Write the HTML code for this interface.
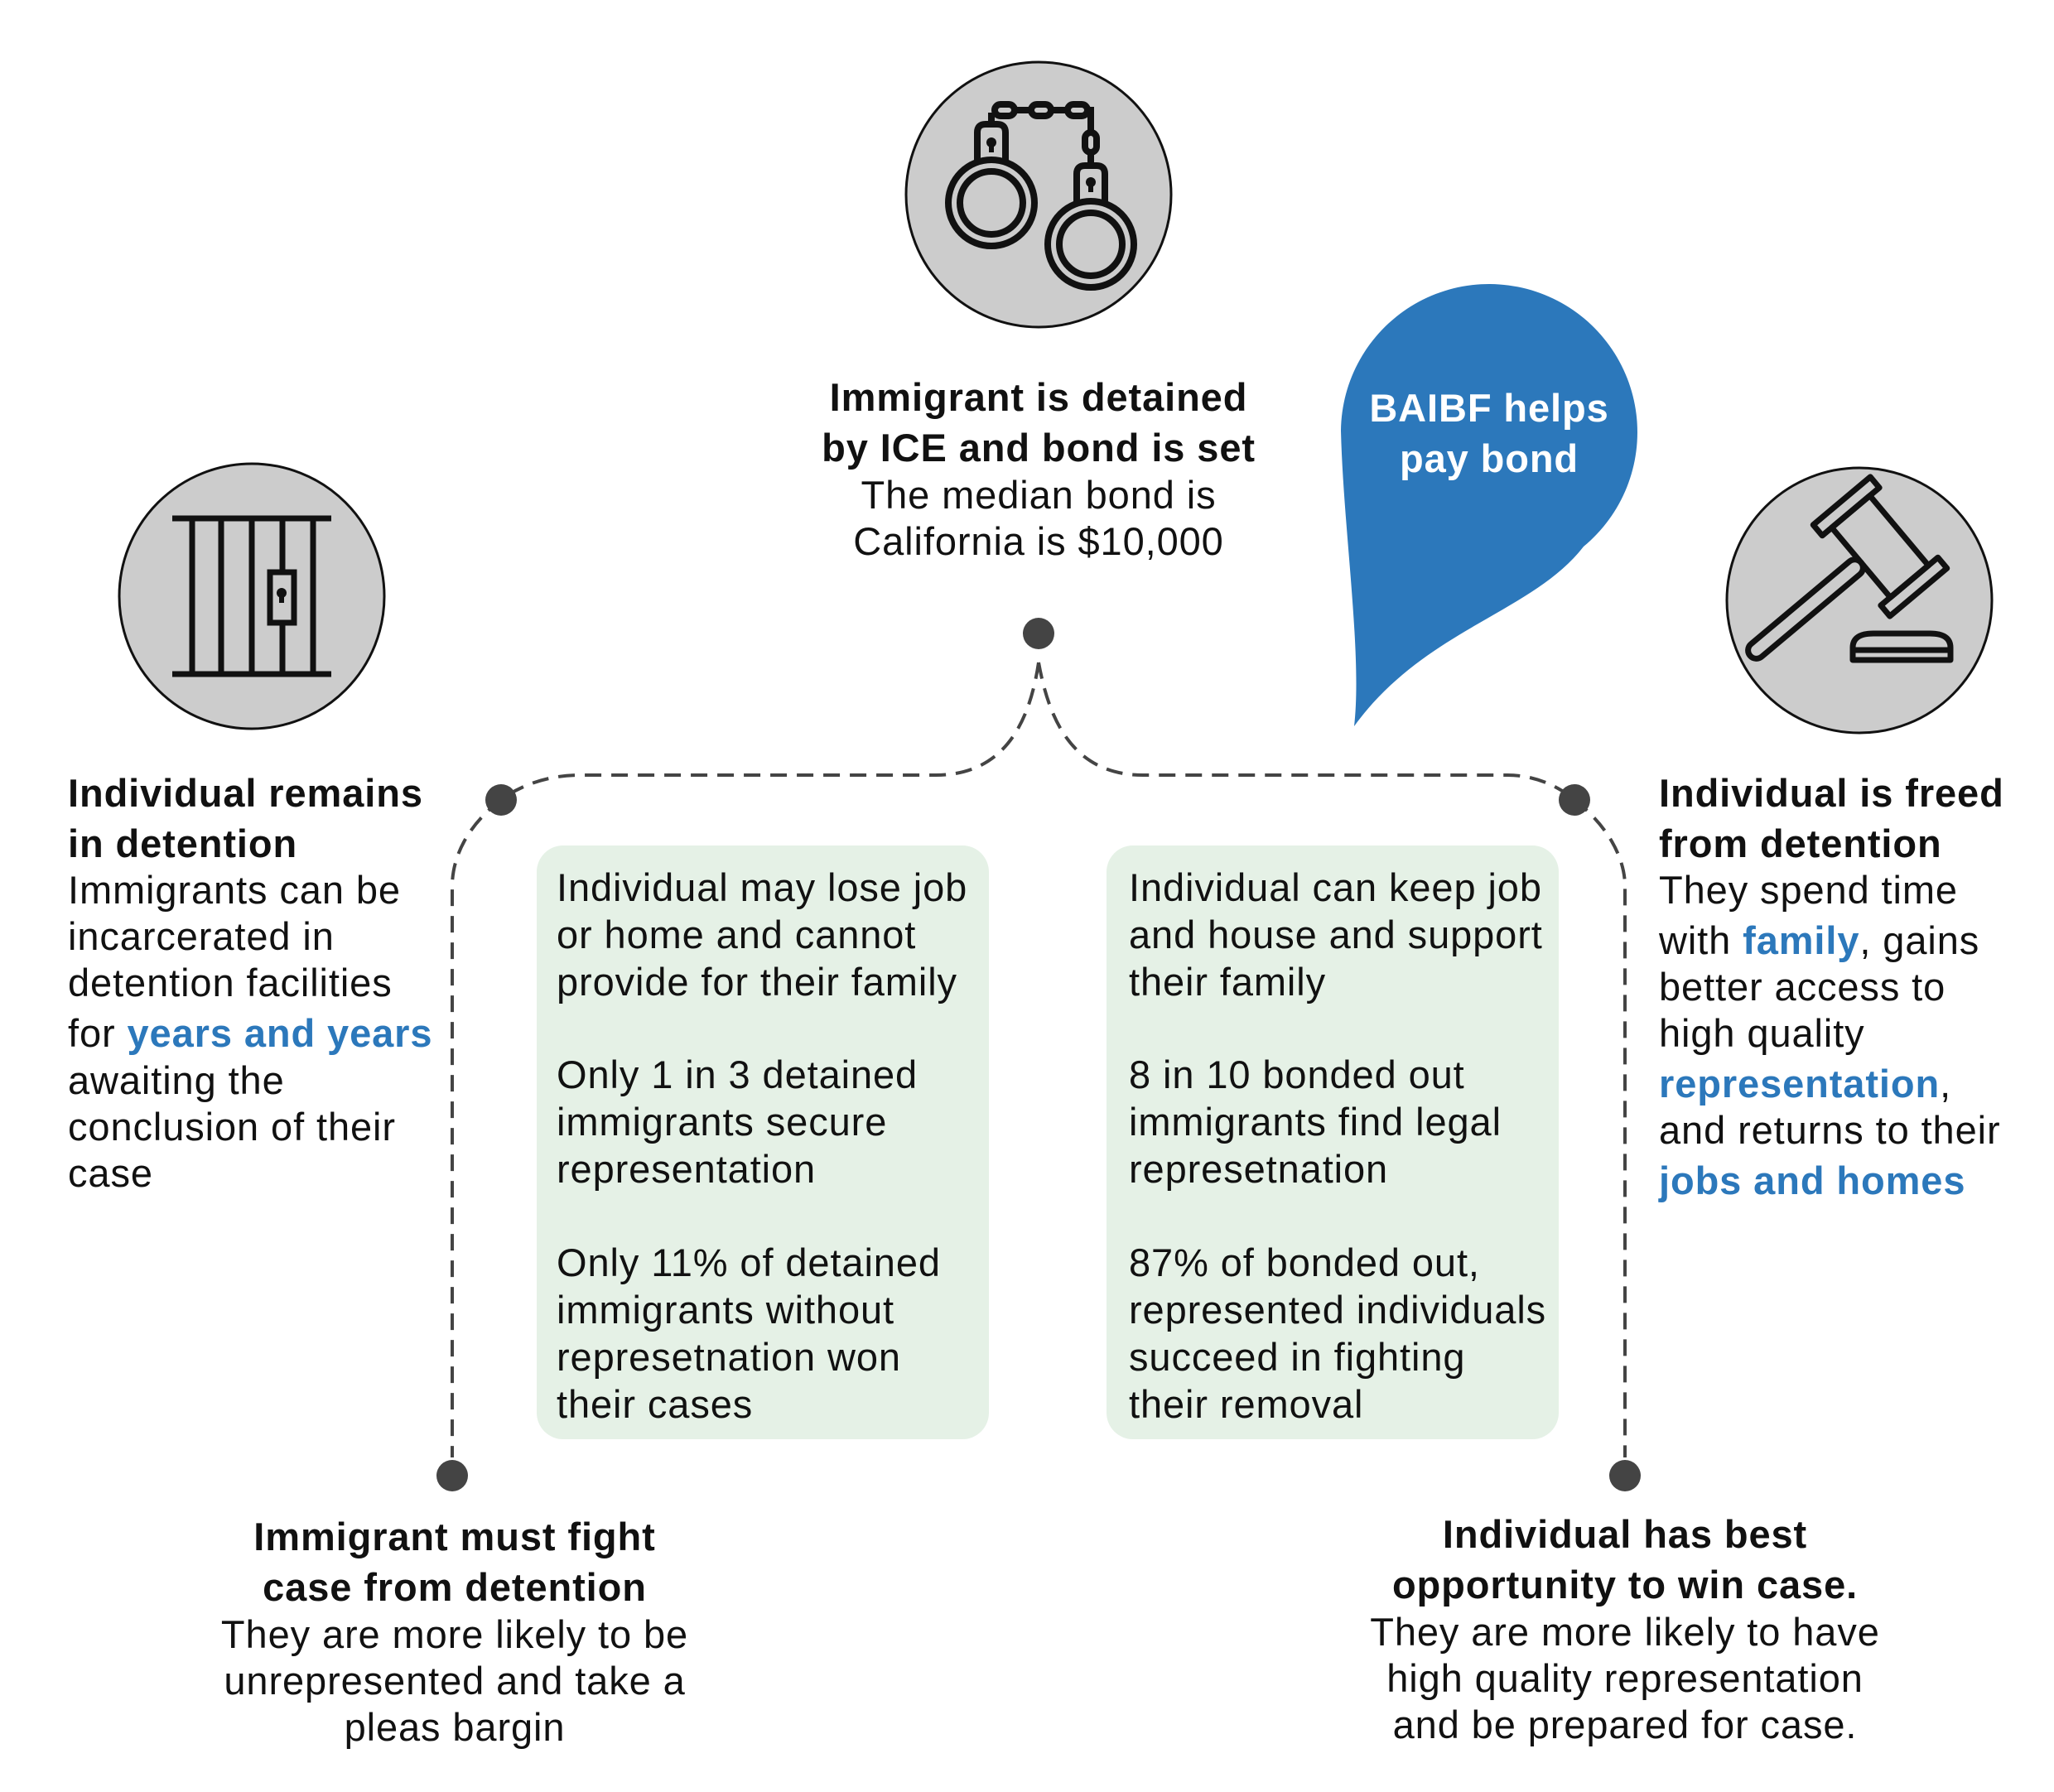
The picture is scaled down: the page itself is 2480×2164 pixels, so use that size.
<!DOCTYPE html>
<html><head><meta charset="utf-8"><style>
html,body{margin:0;padding:0;background:#fff}
svg{display:block}
text{font-family:"Liberation Sans",Arial,sans-serif;fill:#111;letter-spacing:0.9px}
.b{font-weight:bold;font-size:47px}
.n{font-size:47px}
.bl{fill:#2c78bb;font-weight:bold}
</style></head><body>
<svg width="2480" height="2164" viewBox="0 0 2480 2164" xmlns="http://www.w3.org/2000/svg">
<!-- circles -->
<circle cx="1254" cy="235" r="160" fill="#cccccc" stroke="#111" stroke-width="3"/>
<circle cx="304" cy="720" r="160" fill="#cccccc" stroke="#111" stroke-width="3"/>
<circle cx="2245" cy="725" r="160" fill="#cccccc" stroke="#111" stroke-width="3"/>

<!-- handcuffs -->
<g fill="none" stroke="#111" stroke-width="8">
<circle cx="1197" cy="245" r="52"/><circle cx="1197" cy="245" r="38"/>
<circle cx="1317" cy="295" r="52"/><circle cx="1317" cy="295" r="38"/>
<path d="M1180,195 L1180,160 Q1180,150 1190,150 L1204,150 Q1214,150 1214,160 L1214,195"/>
<path d="M1300,245 L1300,210 Q1300,200 1310,200 L1324,200 Q1334,200 1334,210 L1334,245"/>
<path d="M1197,150 L1197,136"/>
<rect x="1201" y="126" width="24" height="14" rx="7"/>
<rect x="1245" y="126" width="24" height="14" rx="7"/>
<rect x="1289" y="126" width="24" height="14" rx="7"/>
<path d="M1225,133 L1245,133 M1269,133 L1289,133 M1313,133 L1317,133 L1317,160"/>
<rect x="1310" y="160" width="14" height="24" rx="7"/>
<path d="M1317,184 L1317,200"/>
</g>
<circle cx="1197" cy="172" r="6" fill="#111"/><rect x="1194" y="172" width="6" height="12" fill="#111"/>
<circle cx="1317" cy="220" r="6" fill="#111"/><rect x="1314" y="220" width="6" height="12" fill="#111"/>

<!-- jail -->
<g stroke="#111" stroke-width="7" fill="none">
<path d="M208,626 L400,626 M208,814 L400,814"/>
<path d="M232,626 V814 M267,626 V814 M304,626 V814 M341,626 V691 M341,752 V814 M378,626 V814"/>
<rect x="326" y="691" width="29" height="61"/>
</g>
<circle cx="340" cy="716" r="6" fill="#111"/><rect x="337" y="716" width="6" height="12" fill="#111"/>

<!-- gavel -->
<g stroke="#111" stroke-width="7" fill="none" stroke-linejoin="round">
<g transform="translate(2270,660) rotate(-40)">
<rect x="-30" y="-55" width="60" height="110"/>
<rect x="-45" y="-72" width="90" height="17"/>
<rect x="-45" y="55" width="90" height="17"/>
<rect x="-205" y="-10" width="175" height="20" rx="10"/>
</g>
<path d="M2237,797 L2355,797 L2355,782 Q2355,765 2330,765 L2262,765 Q2237,765 2237,782 Z"/>
<path d="M2237,785 L2355,785"/>
</g>

<!-- blue drop -->
<path d="M1635,877 C1645,790 1622,640 1619,520 A179,179 0 1 1 1912,660 C1850,740 1720,760 1635,877 Z" fill="#2c78bb"/>
<text x="1798" y="509" text-anchor="middle" class="b" style="fill:#fff">BAIBF helps</text>
<text x="1798" y="570" text-anchor="middle" class="b" style="fill:#fff">pay bond</text>

<!-- green boxes -->
<rect x="648" y="1021" width="546" height="717" rx="32" fill="#e5f1e6"/>
<rect x="1336" y="1021" width="546" height="717" rx="32" fill="#e5f1e6"/>

<!-- dashed connectors -->
<g fill="none" stroke="#444" stroke-width="4" stroke-dasharray="20,12">
<path d="M1254,800 C1245,860 1220,936 1130,936 L700,936 C640,936 605,966 605,966"/>
<path d="M605,966 C560,1000 546,1040 546,1070 L546,1760"/>
<path d="M1254,800 C1265,860 1290,936 1380,936 L1820,936 C1870,936 1901,966 1901,966"/>
<path d="M1901,966 C1945,1000 1962,1040 1962,1070 L1962,1760"/>
</g>
<g fill="#444">
<circle cx="1254" cy="765" r="19"/>
<circle cx="605" cy="966" r="19"/>
<circle cx="1901" cy="966" r="19"/>
<circle cx="546" cy="1782" r="19"/>
<circle cx="1962" cy="1782" r="19"/>
</g>

<!-- top center text -->
<g text-anchor="middle">
<text x="1254" y="496" class="b">Immigrant is detained</text>
<text x="1254" y="557" class="b">by ICE and bond is set</text>
<text x="1254" y="614" class="n">The median bond is</text>
<text x="1254" y="670" class="n">California is $10,000</text>
</g>

<!-- left text -->
<text x="82" y="974" class="b">Individual remains</text>
<text x="82" y="1035" class="b">in detention</text>
<text x="82" y="1091" class="n">Immigrants can be</text>
<text x="82" y="1147" class="n">incarcerated in</text>
<text x="82" y="1203" class="n">detention facilities</text>
<text x="82" y="1264" class="n">for <tspan class="bl">years and years</tspan></text>
<text x="82" y="1321" class="n">awaiting the</text>
<text x="82" y="1377" class="n">conclusion of their</text>
<text x="82" y="1433" class="n">case</text>

<!-- right text -->
<text x="2003" y="974" class="b">Individual is freed</text>
<text x="2003" y="1035" class="b">from detention</text>
<text x="2003" y="1091" class="n">They spend time</text>
<text x="2003" y="1152" class="n">with <tspan class="bl">family</tspan>, gains</text>
<text x="2003" y="1208" class="n">better access to</text>
<text x="2003" y="1264" class="n">high quality</text>
<text x="2003" y="1325" class="n"><tspan class="bl">representation</tspan>,</text>
<text x="2003" y="1381" class="n">and returns to their</text>
<text x="2003" y="1442" class="n"><tspan class="bl">jobs and homes</tspan></text>

<!-- left box -->
<text x="672" y="1088" class="n">Individual may lose job</text>
<text x="672" y="1145" class="n">or home and cannot</text>
<text x="672" y="1202" class="n">provide for their family</text>
<text x="672" y="1314" class="n">Only 1 in 3 detained</text>
<text x="672" y="1371" class="n">immigrants secure</text>
<text x="672" y="1428" class="n">representation</text>
<text x="672" y="1541" class="n">Only 11% of detained</text>
<text x="672" y="1598" class="n">immigrants without</text>
<text x="672" y="1655" class="n">represetnation won</text>
<text x="672" y="1712" class="n">their cases</text>

<!-- right box -->
<text x="1363" y="1088" class="n">Individual can keep job</text>
<text x="1363" y="1145" class="n">and house and support</text>
<text x="1363" y="1202" class="n">their family</text>
<text x="1363" y="1314" class="n">8 in 10 bonded out</text>
<text x="1363" y="1371" class="n">immigrants find legal</text>
<text x="1363" y="1428" class="n">represetnation</text>
<text x="1363" y="1541" class="n">87% of bonded out,</text>
<text x="1363" y="1598" class="n">represented individuals</text>
<text x="1363" y="1655" class="n">succeed in fighting</text>
<text x="1363" y="1712" class="n">their removal</text>

<!-- bottom left -->
<g text-anchor="middle">
<text x="549" y="1872" class="b">Immigrant must fight</text>
<text x="549" y="1933" class="b">case from detention</text>
<text x="549" y="1990" class="n">They are more likely to be</text>
<text x="549" y="2046" class="n">unrepresented and take a</text>
<text x="549" y="2102" class="n">pleas bargin</text>
<!-- bottom right -->
<text x="1962" y="1869" class="b">Individual has best</text>
<text x="1962" y="1930" class="b">opportunity to win case.</text>
<text x="1962" y="1987" class="n">They are more likely to have</text>
<text x="1962" y="2043" class="n">high quality representation</text>
<text x="1962" y="2099" class="n">and be prepared for case.</text>
</g>
</svg>
</body></html>
